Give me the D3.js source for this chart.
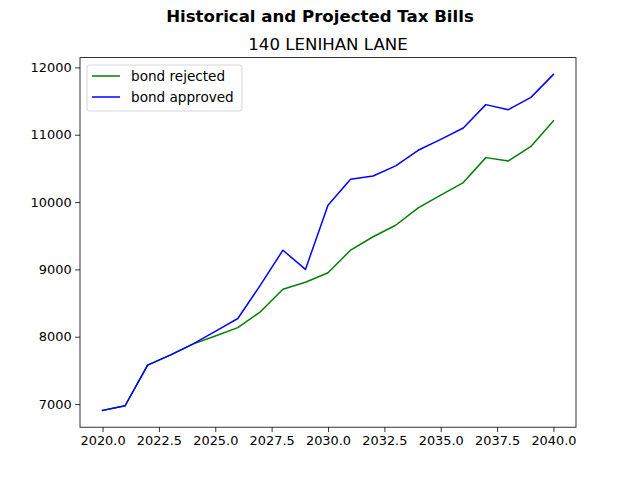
<!DOCTYPE html>
<html>
<meta charset="utf-8" />
<style>
  body { margin: 0; background: #fff; }
  text { font-family: "DejaVu Sans", sans-serif; }
</style>
<svg width="640" height="480"></svg>
<script src="https://d3js.org/d3.v7.min.js"></script>
<script>
  // data
  const years = [2020, 2021, 2022, 2023, 2024, 2025, 2026, 2027, 2028, 2029, 2030,
                 2031, 2032, 2033, 2034, 2035, 2036, 2037, 2038, 2039, 2040];
  const bondRejected = [6906, 6975, 7579, 7727, 7890, 8010, 8136, 8370, 8706, 8810, 8950,
                        9285, 9485, 9656, 9915, 10104, 10289, 10660, 10610, 10827, 11208];
  const bondApproved = [6906, 6975, 7579, 7727, 7890, 8080, 8271, 8766, 9285, 9000, 9953,
                        10338, 10388, 10537, 10769, 10932, 11100, 11447, 11372, 11555, 11896];
  const xTicks = [2020, 2022.5, 2025, 2027.5, 2030, 2032.5, 2035, 2037.5, 2040];
  const yTicks = [7000, 8000, 9000, 10000, 11000, 12000];
  const series = [
    { name: "bond rejected", values: bondRejected, color: "green" },
    { name: "bond approved", values: bondApproved, color: "blue" },
  ];

  var svg = d3.select("svg");
  // plot area (matplotlib default subplot params)
  var plotL = 80, plotR = 576, plotT = 57.6, plotB = 427.2;

  // matplotlib style 5% margins
  var xmin = d3.min(years), xmax = d3.max(years);
  var xpad = (xmax - xmin) * 0.05;
  var allY = bondRejected.concat(bondApproved);
  var ymin = d3.min(allY), ymax = d3.max(allY);
  var ypad = (ymax - ymin) * 0.05;

  var x = d3.scaleLinear().domain([xmin - xpad, xmax + xpad]).range([plotL, plotR]);
  var y = d3.scaleLinear().domain([ymin - ypad, ymax + ypad]).range([plotB, plotT]);

  svg.append("text")
    .attr("x", 320).attr("y", 22)
    .attr("text-anchor", "middle")
    .attr("font-size", "16.6px").attr("font-weight", "bold")
    .text("Historical and Projected Tax Bills");

  svg.append("text")
    .attr("x", (plotL + plotR) / 2).attr("y", 50)
    .attr("text-anchor", "middle")
    .attr("font-size", "16.6px")
    .text("140 LENIHAN LANE");

  var xAxis = svg.append("g")
    .attr("transform", "translate(0," + plotB + ")")
    .call(d3.axisBottom(x).tickValues(xTicks).tickFormat(d3.format(".1f")).tickSizeOuter(0).tickSize(4.9).tickPadding(3.5));
  var yAxis = svg.append("g")
    .attr("transform", "translate(" + plotL + ",0)")
    .call(d3.axisLeft(y).tickValues(yTicks).tickFormat(d3.format("d")).tickSizeOuter(0).tickSize(4.9).tickPadding(3.5));
  [xAxis, yAxis].forEach(function (g) {
    g.select(".domain").remove();
    g.selectAll("text").attr("font-size", "12.9px").attr("fill", "#000")
      .style("font-family", "DejaVu Sans, sans-serif");
    g.selectAll("line").attr("stroke", "#000").attr("stroke-width", 0.8);
  });

  var line = d3.line()
    .x((d, i) => x(years[i]))
    .y((d) => y(d));

  svg.append("g").selectAll("path")
    .data(series)
    .join("path")
    .attr("d", (d) => line(d.values))
    .attr("fill", "none")
    .attr("stroke", (d) => d.color)
    .attr("stroke-width", 1.5)
    .attr("stroke-linejoin", "round")
    .attr("stroke-linecap", "square");

  // frame
  svg.append("rect")
    .attr("x", plotL).attr("y", plotT)
    .attr("width", plotR - plotL).attr("height", plotB - plotT)
    .attr("fill", "none").attr("stroke", "#000").attr("stroke-width", 0.8);

  // legend
  var legend = svg.append("g");
  legend.append("rect")
    .attr("x", 87).attr("y", 65).attr("width", 155).attr("height", 46)
    .attr("rx", 2.5)
    .attr("fill", "#fff").attr("fill-opacity", 0.8)
    .attr("stroke", "#ccc").attr("stroke-width", 0.8);
  var items = legend.selectAll("g.item")
    .data(series)
    .join("g")
    .attr("class", "item")
    .attr("transform", (d, i) => "translate(0," + (76 + i * 21) + ")");
  items.append("line")
    .attr("x1", 92).attr("x2", 120)
    .attr("stroke", (d) => d.color).attr("stroke-width", 1.5);
  items.append("text")
    .attr("x", 131).attr("y", 0).attr("dy", "0.35em")
    .attr("font-size", "13.6px")
    .text((d) => d.name);
</script>
</html>
